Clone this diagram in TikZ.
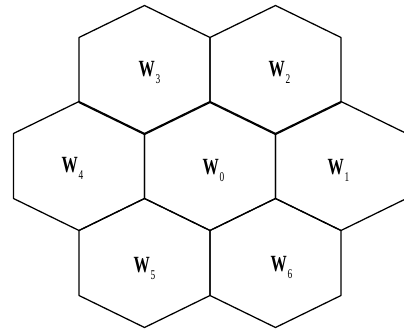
\documentclass[tikz,border=0pt]{standalone}
\usepackage{fontspec}
\setmainfont{Liberation Serif}
\newfontfamily\cellfont[FakeStretch=0.7]{Liberation Serif}
\newcommand{\wcell}[1]{{\cellfont\fontsize{16.5}{17}\selectfont\bfseries W}\hspace{0.5pt}\raisebox{-4.6pt}{\cellfont\fontsize{9.5}{10}\selectfont #1}}
\begin{document}
\begin{tikzpicture}[x=0.025cm,y=0.025cm,line width=0.9pt]
\clip (0,0) rectangle (404,329);
% seven cells, centres in pixel units
\foreach \cx/\cy in {144.5/259, 275.5/259, 79/163, 210/163, 341/163, 144.5/66, 275.5/66}
  \draw[line join=round] (\cx,\cy+64.5) -- ++(65.5,-32) -- ++(0,-65) -- ++(-65.5,-32)
    -- ++(-65.5,32) -- ++(0,65) -- cycle;
\node[anchor=base west,inner sep=0] (w3) at (138,252) {\wcell{3}};
\node[anchor=base west,inner sep=0] (w2) at (268,252) {\wcell{2}};
\node[anchor=base west,inner sep=0] (w4) at (61,156) {\wcell{4}};
\node[anchor=base west,inner sep=0] (w0) at (202,154) {\wcell{0}};
\node[anchor=base west,inner sep=0] (w1) at (327,154) {\wcell{1}};
\node[anchor=base west,inner sep=0] (w5) at (133,56) {\wcell{5}};
\node[anchor=base west,inner sep=0] (w6) at (270,57) {\wcell{6}};
\end{tikzpicture}
\end{document}
